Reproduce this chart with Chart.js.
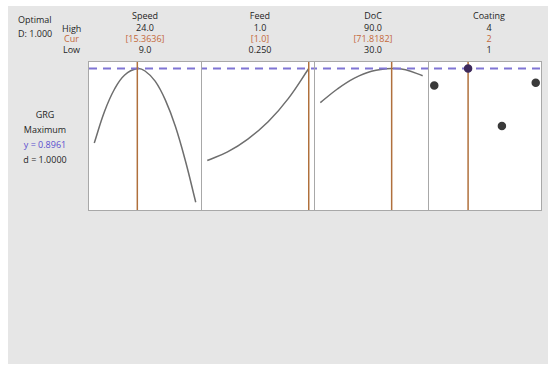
<!DOCTYPE html>
<html>
<head>
<meta charset="utf-8">
<script src="https://cdn.jsdelivr.net/npm/chart.js@4"></script>
<style>
  body { margin: 0; background: #fff; width: 550px; height: 371px; overflow: hidden; }
  #bg { position: absolute; left: 8px; top: 6px; width: 540px; height: 358px; background: #e6e6e6; }
  .t { position: absolute; font-family: "Open Sans", "Noto Sans", sans-serif; font-size: 9px; color: #1e1e1e; white-space: nowrap; line-height: 10px; }
  .c { transform: translateX(-50%); text-align: center; }
  .cur { color: #c4683a; }
  .blue { color: #5a4fcf; }
  .panel { position: absolute; top: 61px; height: 150px; background: #fff; box-sizing: border-box;
           border-top: 1px solid #a8a8a8; border-bottom: 1px solid #a8a8a8; border-left: 1px solid #a8a8a8; }
  .panel canvas { position: absolute; left: 0; top: 0; }
</style>
</head>
<body>
<div id="bg"></div>

<div class="t" style="left:18px; top:15px;">Optimal</div>
<div class="t" style="left:18px; top:29px;">D: 1.000</div>
<div class="t" style="left:62px; top:24px;">High</div>
<div class="t cur" style="left:64px; top:34px;">Cur</div>
<div class="t" style="left:63px; top:45px;">Low</div>

<div id="heads"></div>

<div class="t c" style="left:45px; top:110px;">GRG</div>
<div class="t c" style="left:45px; top:125px;">Maximum</div>
<div class="t c blue" style="left:45px; top:140px;">y = 0.8961</div>
<div class="t c" style="left:45px; top:155px;">d = 1.0000</div>

<div id="panels"></div>

<script>
// factor settings
const factors = ['Speed', 'Feed', 'DoC', 'Coating'];
const highLabels = ['24.0', '1.0', '90.0', '4'];
const curLabels = ['[15.3636]', '[1.0]', '[71.8182]', '2'];
const lowLabels = ['9.0', '0.250', '30.0', '1'];
const lows = [9, 0.25, 30, 1];
const highs = [24, 1.0, 90, 4];
const curs = [15.3636, 1.0, 71.8182, 2];

// predicted GRG along each factor
const speedX = [9, 10.5, 12, 13.5, 15.3636, 16.5, 18, 19.5, 21, 22.5, 24];
const speedGRG = [0.594, 0.721, 0.813, 0.870, 0.896, 0.886, 0.845, 0.769, 0.661, 0.519, 0.354];
const feedX = [0.25, 0.40, 0.55, 0.70, 0.85, 1.0];
const feedGRG = [0.523, 0.558, 0.610, 0.680, 0.775, 0.896];
const docX = [30, 40, 50, 60, 71.8182, 80, 90];
const docGRG = [0.758, 0.813, 0.857, 0.885, 0.896, 0.891, 0.867];
const coatingX = [1, 2, 3, 4];
const coatingGRG = [0.827, 0.896, 0.663, 0.838];

const yOpt = 0.8961;
const yMin = 0.3225, yMax = 0.9225;

const curveX = [speedX, feedX, docX, coatingX];
const curveY = [speedGRG, feedGRG, docGRG, coatingGRG];

// header texts
const headX = [145, 260, 373, 489];
const heads = document.getElementById('heads');
factors.forEach((f, i) => {
  heads.innerHTML += `
    <div class="t c" style="left:${headX[i]}px; top:11px;">${f}</div>
    <div class="t c" style="left:${headX[i]}px; top:23px;">${highLabels[i]}</div>
    <div class="t c cur" style="left:${headX[i]}px; top:34px;">${curLabels[i]}</div>
    <div class="t c" style="left:${headX[i]}px; top:45px;">${lowLabels[i]}</div>`;
});

const panelLeft = [88, 201, 314, 428];
const panelWidth = [113, 113, 114, 114];
const panels = document.getElementById('panels');

factors.forEach((f, i) => {
  const div = document.createElement('div');
  div.className = 'panel';
  div.style.left = panelLeft[i] + 'px';
  div.style.width = panelWidth[i] + 'px';
  if (i === 3) div.style.borderRight = '1px solid #a8a8a8';
  const cv = document.createElement('canvas');
  const w = panelWidth[i] - 1 - (i === 3 ? 1 : 0);
  cv.width = w; cv.height = 148;
  cv.style.width = w + 'px'; cv.style.height = '148px';
  div.appendChild(cv);
  panels.appendChild(div);

  const pad = (highs[i] - lows[i]) * 0.052;
  const xmin = lows[i] - pad, xmax = highs[i] + pad;
  const pts = curveX[i].map((x, k) => ({ x, y: curveY[i][k] }));
  const isCat = i === 3;
  const dotCol = pts.map(p => p.x === curs[i] ? '#3d2a5c' : '#3a3a3a');

  new Chart(cv.getContext('2d'), {
    type: 'line',
    data: {
      datasets: [
        {
          data: pts,
          borderColor: '#6e6e6e',
          borderWidth: 1.5,
          showLine: !isCat,
          tension: 0.4,
          pointRadius: isCat ? 3.5 : 0,
          pointBackgroundColor: dotCol,
          pointBorderColor: dotCol,
          order: isCat ? 0 : 3
        },
        {
          data: [{ x: xmin, y: yOpt }, { x: xmax, y: yOpt }],
          borderColor: '#7f74d4',
          borderWidth: 2,
          borderDash: [8, 6],
          borderDashOffset: i * 3,
          pointRadius: 0,
          order: 2
        },
        {
          data: [{ x: curs[i], y: yMin }, { x: curs[i], y: yMax }],
          borderColor: '#b0703c',
          borderWidth: 1.5,
          pointRadius: 0,
          order: 1
        }
      ]
    },
    options: {
      responsive: false,
      animation: false,
      layout: { padding: 0, autoPadding: false },
      plugins: { legend: { display: false }, tooltip: { enabled: false } },
      scales: {
        x: { type: 'linear', min: xmin, max: xmax, display: false },
        y: { min: yMin, max: yMax, display: false }
      }
    }
  });
});
</script>
</body>
</html>
